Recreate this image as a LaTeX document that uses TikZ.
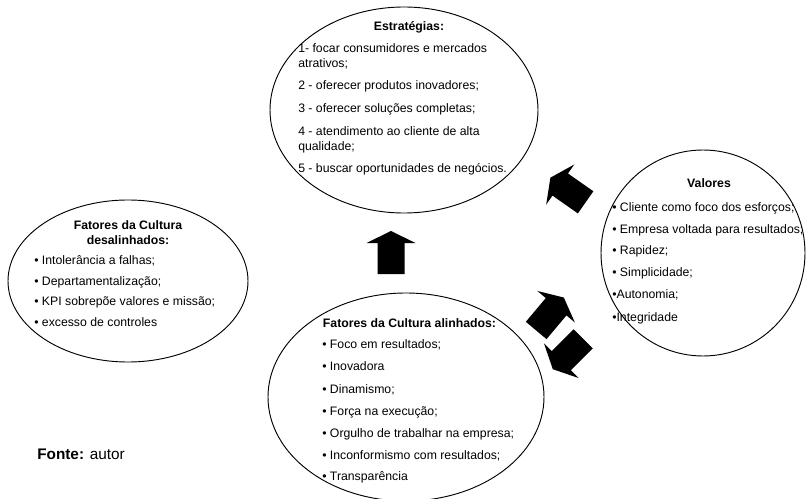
\documentclass[tikz,border=0pt]{standalone}
\usepackage{fontspec}
\setmainfont{Liberation Sans}
\begin{document}
\begin{tikzpicture}[x=0.75pt,y=-0.75pt,
  oval/.style={draw=black,line width=0.7pt},
  txt/.style={font=\fontsize{9.2}{11}\selectfont,inner sep=0pt,anchor=base west},
  head/.style={font=\fontsize{9.2}{11}\selectfont\bfseries,inner sep=0pt,anchor=base},
  blockarrow/.pic={\fill[black] (0,-21.5) -- (24.5,-9.5) -- (13.5,-9.5) -- (13.5,21.5)
      -- (-13.5,21.5) -- (-13.5,-9.5) -- (-24.5,-9.5) -- cycle;}]
\useasboundingbox (0,0) rectangle (806,499);

% ellipses
\draw[oval] (404,110) ellipse [x radius=134, y radius=103];
\draw[oval] (128,281) ellipse [x radius=120, y radius=81];
\draw[oval] (703,253) ellipse [x radius=102, y radius=103];
\draw[oval] (406,397) ellipse [x radius=138, y radius=104];

% strategies
\node[head] (eh) at (409,30.5) {Estratégias:};
\node[txt] (e1) at (298,52.5) {1- focar consumidores e mercados};
\node[txt] (e1b) at (298,67.5) {atrativos;};
\node[txt] (e2) at (298,89.5) {2 - oferecer produtos inovadores;};
\node[txt] (e3) at (298,112.5) {3 - oferecer soluções completas;};
\node[txt] (e4) at (298,135.5) {4 - atendimento ao cliente de alta};
\node[txt] (e4b) at (298,150.5) {qualidade;};
\node[txt] (e5) at (298,172.5) {5 - buscar oportunidades de negócios.};

% misaligned culture factors
\node[head] (dh1) at (128,229) {Fatores da Cultura};
\node[head] (dh2) at (128,244) {desalinhados:};
\node[txt] (d1) at (34,264.5) {• Intolerância a falhas;};
\node[txt] (d2) at (34,285) {• Departamentalização;};
\node[txt] (d3) at (34,305.5) {• KPI sobrepõe valores e missão;};
\node[txt] (d4) at (34,326) {• excesso de controles};

% values
\node[head] (vh) at (709,187.5) {Valores};
\node[txt] (v1) at (612,211.5) {• Cliente como foco dos esforços;};
\node[txt] (v2) at (612,233) {• Empresa voltada para resultados;};
\node[txt] (v3) at (612,254.5) {• Rapidez;};
\node[txt] (v4) at (612,276.5) {• Simplicidade;};
\node[txt] (v5) at (612,298.5) {•Autonomia;};
\node[txt] (v6) at (612,321.5) {•Integridade};

% aligned culture factors
\node[head] (ah) at (409.5,327) {Fatores da Cultura alinhados:};
\node[txt] (a1) at (322,348) {• Foco em resultados;};
\node[txt] (a2) at (322,370.5) {• Inovadora};
\node[txt] (a3) at (322,393) {• Dinamismo;};
\node[txt] (a4) at (322,415) {• Força na execução;};
\node[txt] (a5) at (322,437) {• Orgulho de trabalhar na empresa;};
\node[txt] (a6) at (322,459) {• Inconformismo com resultados;};
\node[txt] (a7) at (322,480.5) {• Transparência};

% block arrows
\pic at (391,252.5) {blockarrow};
\pic[rotate=55] at (568,190) {blockarrow};
\pic[rotate=-40] at (550,314) {blockarrow};
\pic[rotate=135] at (568,354) {blockarrow};

% source
\node[anchor=base west,inner sep=0pt,font=\fontsize{11.5}{13}\selectfont] (src) at (37,459.5) {\textbf{Fonte:} autor};
\end{tikzpicture}
\end{document}
